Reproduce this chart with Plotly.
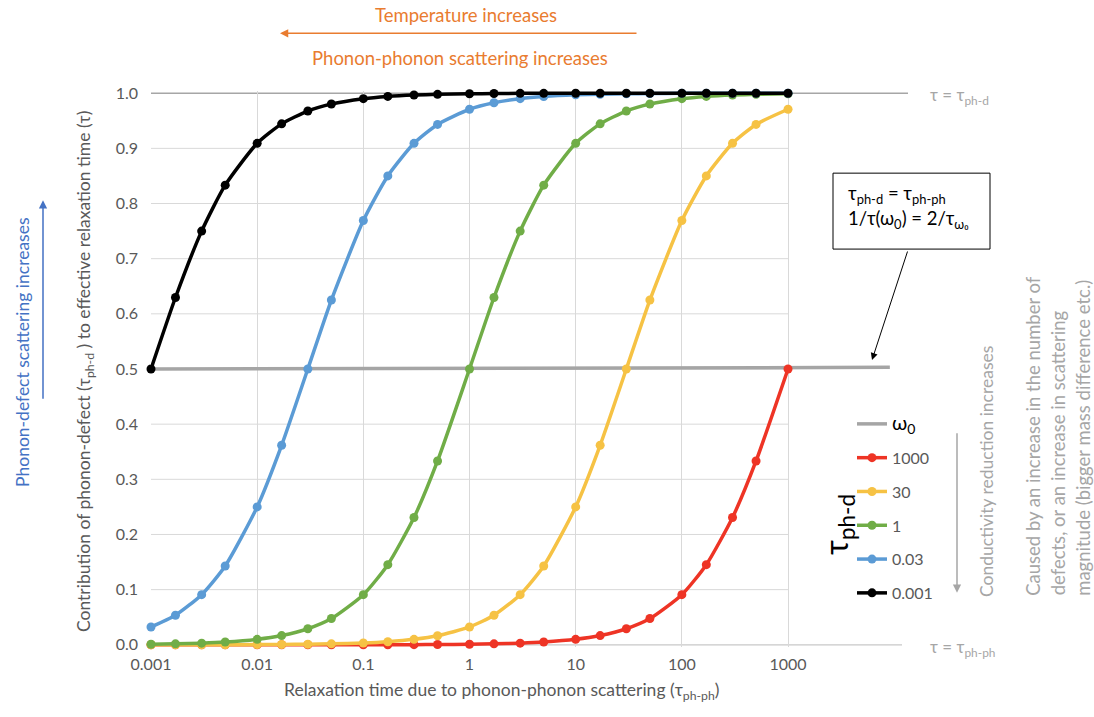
import plotly.graph_objects as go

# Relaxation time due to phonon-phonon scattering (x values, 4 steps per decade)
tau_ph_ph = [0.001, 0.0017, 0.003, 0.005, 0.01, 0.017, 0.03, 0.05, 0.1, 0.17, 0.3, 0.5,
             1, 1.7, 3, 5, 10, 17, 30, 50, 100, 170, 300, 500, 1000]

# Contribution of phonon-defect scattering, one series per tau_ph-d
contrib_1000 = [0.000001, 0.0000017, 0.000003, 0.000005, 0.00001, 0.000017, 0.00003, 0.00005,
                0.0001, 0.00017, 0.0003, 0.0005, 0.001, 0.0017, 0.003, 0.005, 0.0099, 0.0167,
                0.0291, 0.0476, 0.0909, 0.1453, 0.2308, 0.3333, 0.5]
contrib_30 = [0.00003, 0.00006, 0.0001, 0.00017, 0.00033, 0.00057, 0.001, 0.00167, 0.0033,
              0.0056, 0.0099, 0.0164, 0.0323, 0.0536, 0.0909, 0.1429, 0.25, 0.3617, 0.5,
              0.625, 0.7692, 0.85, 0.9091, 0.9434, 0.9709]
contrib_1 = [0.001, 0.0017, 0.003, 0.005, 0.0099, 0.0167, 0.0291, 0.0476, 0.0909, 0.1453,
             0.2308, 0.3333, 0.5, 0.6296, 0.75, 0.8333, 0.9091, 0.9444, 0.9677, 0.9804,
             0.9901, 0.9942, 0.9967, 0.998, 0.999]
contrib_003 = [0.0323, 0.0536, 0.0909, 0.1429, 0.25, 0.3617, 0.5, 0.625, 0.7692, 0.85,
               0.9091, 0.9434, 0.9709, 0.9827, 0.9901, 0.994, 0.997, 0.9982, 0.999, 0.9994,
               0.9997, 0.9998, 0.9999, 0.9999, 1.0]
contrib_0001 = [0.5, 0.6296, 0.75, 0.8333, 0.9091, 0.9444, 0.9677, 0.9804, 0.9901, 0.9942,
                0.9967, 0.998, 0.999, 0.9994, 0.9997, 0.9998, 0.9999, 0.9999, 1.0, 1.0,
                1.0, 1.0, 1.0, 1.0, 1.0]

# omega_0 reference line
omega_x = [0.001, 9100]
omega_y = [0.5, 0.503]

series_names = ["1000", "30", "1", "0.03", "0.001"]
series_values = [contrib_1000, contrib_30, contrib_1, contrib_003, contrib_0001]
series_colors = ["#EE3425", "#F6C244", "#70AD47", "#5B9BD5", "#000000"]

x_tickvals = [0.001, 0.01, 0.1, 1, 10, 100, 1000]
x_ticktext = ["0.001", "0.01", "0.1", "1", "10", "100", "1000"]
y_tickvals = [0.0, 0.1, 0.2, 0.3, 0.4, 0.5, 0.6, 0.7, 0.8, 0.9, 1.0]

FONT = "Lato"
GRAY_TXT = "#595959"
LIGHT_TXT = "#A6A6A6"
ORANGE = "#E97C30"
BLUE = "#4472C4"

W, H = 1094, 717
L, R = 151, 908           # plot area in pixels (horizontal)
Y0, Y1 = -0.004, 1.004    # value range
PT = 93 - (Y1 - 1.0) * 552
PB = 645 + (0.0 - Y0) * 552
X_LOG_RANGE = [-3, -3 + (R - L) / 106.17]


def xp(px):
    return (px - L) / (R - L)


def yp(py):
    return (PB - py) / (PB - PT)


def yval(v):
    return (v - Y0) / (Y1 - Y0)


fig = go.Figure()

fig.add_trace(go.Scatter(
    x=omega_x, y=omega_y, mode="lines",
    name="<span style='font-size:20px;color:#000000'>ω<sub>0</sub></span>",
    line=dict(color="#A5A5A5", width=3.5),
    legendgroup="w0", hoverinfo="skip",
))

for name, vals, col in zip(series_names, series_values, series_colors):
    fig.add_trace(go.Scatter(
        x=tau_ph_ph, y=vals, mode="lines+markers", name=name,
        line=dict(color=col, width=3.5, shape="spline", smoothing=0.6),
        marker=dict(color=col, size=9),
        cliponaxis=False, legendgroup=name,
    ))

shapes = []
# horizontal gridlines stop at the last category
for v in y_tickvals[1:-1]:
    shapes.append(dict(type="line", xref="x", yref="y", x0=0.001, x1=1000, y0=v, y1=v,
                       line=dict(color="#D9D9D9", width=1), layer="below"))
# top reference line (tau = tau_ph-d) and bottom axis line
shapes.append(dict(type="line", xref="paper", yref="paper", x0=0, x1=1, y0=yval(1.0), y1=yval(1.0),
                   line=dict(color="#A6A6A6", width=1.5), layer="below"))
shapes.append(dict(type="line", xref="paper", yref="paper", x0=0, x1=xp(902), y0=yval(0.0), y1=yval(0.0),
                   line=dict(color="#C8C8C8", width=1.2), layer="below"))
# equality box
shapes.append(dict(type="rect", xref="paper", yref="paper", x0=xp(833), x1=xp(990),
                   y0=yp(249), y1=yp(173), line=dict(color="#000000", width=1),
                   fillcolor="#FFFFFF", layer="above"))

ann = []


def text(px, py, s, size, color, angle=0, xanchor="center", yanchor="middle", align="center"):
    ann.append(dict(x=xp(px), y=yp(py), xref="paper", yref="paper", text=s, showarrow=False,
                    font=dict(family=FONT, size=size, color=color), textangle=angle,
                    xanchor=xanchor, yanchor=yanchor, align=align))


def arrow(tip_px, tip_py, tail_px, tail_py, color, width=1.5, size=1.2):
    ann.append(dict(x=xp(tip_px), y=yp(tip_py), xref="paper", yref="paper", text="",
                    showarrow=True, ax=tail_px - tip_px, ay=tail_py - tip_py,
                    arrowcolor=color, arrowwidth=width, arrowhead=2, arrowsize=size,
                    standoff=0, startstandoff=0))


# top: temperature / phonon-phonon scattering
text(466, 15, "Temperature increases", 18.5, ORANGE)
arrow(280, 33, 638, 33, ORANGE, 1.5, 1.1)
text(460, 58, "Phonon-phonon scattering increases", 18.5, ORANGE)

# left: phonon-defect scattering
text(22, 352, "Phonon-defect scattering increases", 17.5, BLUE, angle=-90)
arrow(43, 200, 43, 400, BLUE, 1.5, 1.1)

# axis titles
text(85, 372, "Contribution of phonon-defect (τ<sub>ph-d</sub> ) to effective relaxation time (τ)",
     17.5, GRAY_TXT, angle=-90)
text(501, 691, "Relaxation time due to phonon-phonon scattering (τ<sub>ph-ph</sub>)", 17.5, GRAY_TXT)

# limits
text(928, 96, "τ = τ<sub>ph-d</sub>", 17, LIGHT_TXT, xanchor="left")
text(928, 648, "τ = τ<sub>ph-ph</sub>", 17, LIGHT_TXT, xanchor="left")

# equality box text
text(846, 194, "τ<sub>ph-d</sub> = τ<sub>ph-ph</sub>", 18.5, "#000000", xanchor="left")
text(846, 219, "1/τ(ω<sub>0</sub>) = 2/τ<sub>ω₀</sub>", 18.5, "#000000", xanchor="left")
arrow(872, 360, 908, 250, "#000000", 1, 1.4)

# legend title
text(838, 525, "τ<sub>ph-d</sub>", 32, "#000000", angle=-90)

# right side notes
text(987, 472, "Conductivity reduction increases", 17.5, LIGHT_TXT, angle=-90)
arrow(957, 593, 957, 432, LIGHT_TXT, 1.5, 1.1)
for px, line in zip([1033, 1058, 1083], ["Caused by an increase in the number of",
                                         "defects, or an increase in scattering",
                                         "magnitude (bigger mass difference etc.)"]):
    text(px, 598, line, 18.5, LIGHT_TXT, angle=-90, yanchor="bottom")

fig.update_layout(
    width=W, height=H,
    margin=dict(l=L, r=W - R, t=PT, b=H - PB, pad=0),
    paper_bgcolor="#FFFFFF", plot_bgcolor="#FFFFFF",
    font=dict(family=FONT, size=16, color=GRAY_TXT),
    showlegend=True,
    legend=dict(x=xp(852), y=yp(407), xanchor="left", yanchor="top",
                font=dict(family=FONT, size=16, color=GRAY_TXT),
                bgcolor="rgba(255,255,255,0)", borderwidth=0,
                tracegroupgap=10),
    shapes=shapes, annotations=ann,
    xaxis=dict(type="log", range=X_LOG_RANGE, tickvals=x_tickvals, ticktext=x_ticktext,
               showgrid=True, gridcolor="#D9D9D9", gridwidth=1, zeroline=False,
               showline=False, ticks="", ticklabelstandoff=6,
               tickfont=dict(family=FONT, size=16, color=GRAY_TXT)),
    yaxis=dict(range=[Y0, Y1], tickvals=y_tickvals, tickformat=".1f",
               showgrid=False, zeroline=False, showline=False, ticks="",
               ticklabelstandoff=12,
               tickfont=dict(family=FONT, size=16, color=GRAY_TXT)),
)

fig.write_html("out.html")
